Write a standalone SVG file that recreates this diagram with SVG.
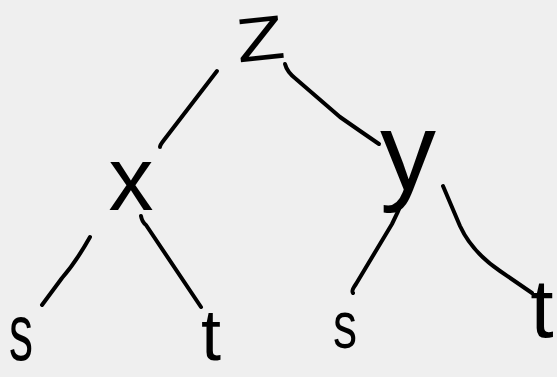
<svg xmlns="http://www.w3.org/2000/svg" width="557" height="377" viewBox="0 0 557 377">
<style>
.bg{fill:#efefef}
.edge{fill:none;stroke:#000;stroke-width:4;stroke-linecap:round;stroke-linejoin:round}
.lbl{font-family:"Liberation Sans","DejaVu Sans",sans-serif;fill:#000;text-anchor:middle}
</style>
<rect class="bg" x="0" y="0" width="557" height="377"/>
<g id="connectors">
<path class="edge" d="M217,71 L164,140 Q160,145 160,147"/>
<path class="edge" d="M285,64 Q287,72 296,79 L340,117 Q360,131 379,144"/>
<path class="edge" d="M90,237 Q76,262 62,278 L42,305"/>
<path class="edge" d="M141,216 Q142,222 146,225 L201,307"/>
<path class="edge" d="M403,200 Q398,212 392,224 L356,284 Q351,291 353,293"/>
<path class="edge" d="M443,186 L460,226 Q472,252 500,271 L532,293"/>
</g>
<g id="node-z"><text class="lbl" x="260" y="60" font-size="62" textLength="48" lengthAdjust="spacingAndGlyphs" transform="rotate(-6 260 38)">Z</text></g>
<g id="node-x"><text class="lbl" x="131" y="210" font-size="90">x</text></g>
<g id="node-y"><text class="lbl" x="408" y="190" font-size="112">y</text></g>
<g id="node-s1"><text class="lbl" x="21" y="360" font-size="80" textLength="24" lengthAdjust="spacingAndGlyphs">s</text></g>
<g id="node-t1"><text class="lbl" x="211" y="360" font-size="72">t</text></g>
<g id="node-s2"><text class="lbl" x="345" y="348" font-size="67" textLength="24" lengthAdjust="spacingAndGlyphs">s</text></g>
<g id="node-t2"><text class="lbl" x="542" y="337" font-size="84">t</text></g>
</svg>
